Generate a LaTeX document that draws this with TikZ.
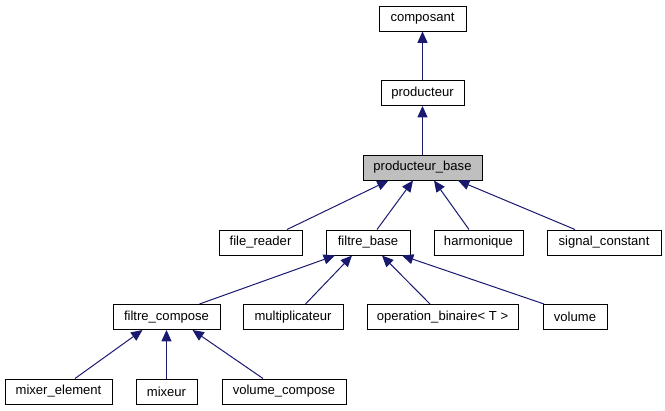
\documentclass[tikz,border=0pt]{standalone}
\usepackage{fontspec}
\setmainfont{Liberation Sans}
\usetikzlibrary{arrows.meta,calc}
\definecolor{edgeblue}{HTML}{191970}
\definecolor{basegray}{HTML}{BFBFBF}
\begin{document}
\begin{tikzpicture}[x=0.75pt,y=-0.75pt,
  box/.style={draw=black,line width=0.75pt,fill=white,inner sep=0pt,
    minimum height=18.75pt,font=\fontsize{9.8}{11}\selectfont},
  inh/.style={draw=edgeblue,line width=0.75pt,
    -{Triangle[length=8.5pt,width=7.5pt]},color=edgeblue}]
\useasboundingbox (0,0) rectangle (665,411);
% nodes
\node[box,minimum width=65.25pt] (comp) at (422.5,18.5) {composant};
\node[box,minimum width=62.25pt] (prod) at (422.5,93) {producteur};
\node[box,fill=basegray,minimum width=89.25pt] (pb) at (422.5,167.5) {producteur\_base};
\node[box,minimum width=62.25pt] (fr) at (260.5,242.5) {file\_reader};
\node[box,minimum width=63pt] (fb) at (368,242.5) {filtre\_base};
\node[box,minimum width=66.75pt] (hm) at (478.5,242.5) {harmonique};
\node[box,minimum width=85.5pt] (sc) at (604,242.5) {signal\_constant};
\node[box,minimum width=80.25pt] (fc) at (166.5,317) {filtre\_compose};
\node[box,minimum width=75pt] (mp) at (293,317) {multiplicateur};
\node[box,minimum width=113.25pt] (ob) at (442.5,317) {operation\_binaire< T >};
\node[box,minimum width=48pt] (vol) at (575,317) {volume};
\node[box,minimum width=80.25pt] (me) at (58.5,391.5) {mixer\_element};
\node[box,minimum width=45.75pt] (mx) at (166.5,391.5) {mixeur};
\node[box,minimum width=93pt] (vc) at (284,391.5) {volume\_compose};
% edges (child -> parent)
\draw[inh] (prod.north) -- (comp.south);
\draw[inh] (pb.north) -- (prod.south);
\draw[inh] ($(fr.north)+(26.5,0)$) -- ($(pb.south)+(-34,0)$);
\draw[inh] ($(fb.north)+(9,0)$) -- ($(pb.south)+(-9.5,0)$);
\draw[inh] ($(hm.north)+(-9.5,0)$) -- ($(pb.south)+(11.5,0)$);
\draw[inh] ($(sc.north)+(-29,0)$) -- ($(pb.south)+(35.5,0)$);
\draw[inh] ($(fc.north)+(33,0)$) -- ($(fb.south)+(-33,0)$);
\draw[inh] ($(mp.north)+(12.5,0)$) -- ($(fb.south)+(-16,0)$);
\draw[inh] ($(ob.north)+(-12.5,0)$) -- ($(fb.south)+(14,0)$);
\draw[inh] ($(vol.north)+(-31,0)$) -- ($(fb.south)+(34,0)$);
\draw[inh] ($(me.north)+(16.5,0)$) -- ($(fc.south)+(-24,0)$);
\draw[inh] (mx.north) -- (fc.south);
\draw[inh] ($(vc.north)+(-21,0)$) -- ($(fc.south)+(26,0)$);
\end{tikzpicture}
\end{document}
